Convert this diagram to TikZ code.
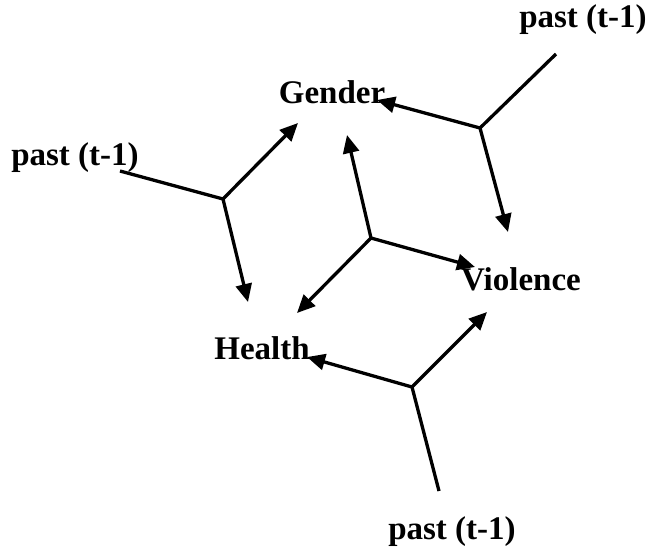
\documentclass[tikz,border=0pt]{standalone}
\usepackage{fontspec}
\setmainfont{Liberation Serif}
\usetikzlibrary{arrows.meta}
\begin{document}
\begin{tikzpicture}[x=1pt,y=-1pt,
  lbl/.style={font=\fontsize{33}{38}\selectfont\bfseries, inner sep=0pt},
  link/.style={line width=3.3pt, line cap=butt},
  cause/.style={link, -{Triangle[length=18pt,width=16pt]}}]
\useasboundingbox (0,0) rectangle (661,550);

% variables and lagged terms
\node[lbl] (gender)  at (332,92)  {Gender};
\node[lbl] (violence) at (521,279) {Violence};
\node[lbl] (health)  at (262,348) {Health};
\node[lbl] (pastL) at (75,158)  {past (t-1)};
\node[lbl] (pastR) at (583,20)  {past (t-1)};
\node[lbl] (pastB) at (452,532) {past (t-1)};

% branching points
\coordinate (jL) at (223,199);
\coordinate (jR) at (480,128);
\coordinate (jC) at (371,238);
\coordinate (jB) at (412,387);

% line ends
\coordinate (sL) at (120,171);
\coordinate (sR) at (556,54);
\coordinate (sB) at (439,491);
\coordinate (tL1) at (298,123);
\coordinate (tL2) at (248,302);
\coordinate (tR1) at (377,100);
\coordinate (tR2) at (508,232);
\coordinate (tC1) at (347,135);
\coordinate (tC2) at (475,267);
\coordinate (tC3) at (297,313);
\coordinate (tB1) at (487,312);
\coordinate (tB2) at (307,357);

% lagged effects
\draw[link] (sL) -- (jL);
\draw[cause] (jL) -- (tL1);
\draw[cause] (jL) -- (tL2);

\draw[link] (sR) -- (jR);
\draw[cause] (jR) -- (tR1);
\draw[cause] (jR) -- (tR2);

\draw[link] (sB) -- (jB);
\draw[cause] (jB) -- (tB1);
\draw[cause] (jB) -- (tB2);

% contemporaneous effects
\draw[cause] (jC) -- (tC1);
\draw[cause] (jC) -- (tC2);
\draw[cause] (jC) -- (tC3);
\end{tikzpicture}
\end{document}
